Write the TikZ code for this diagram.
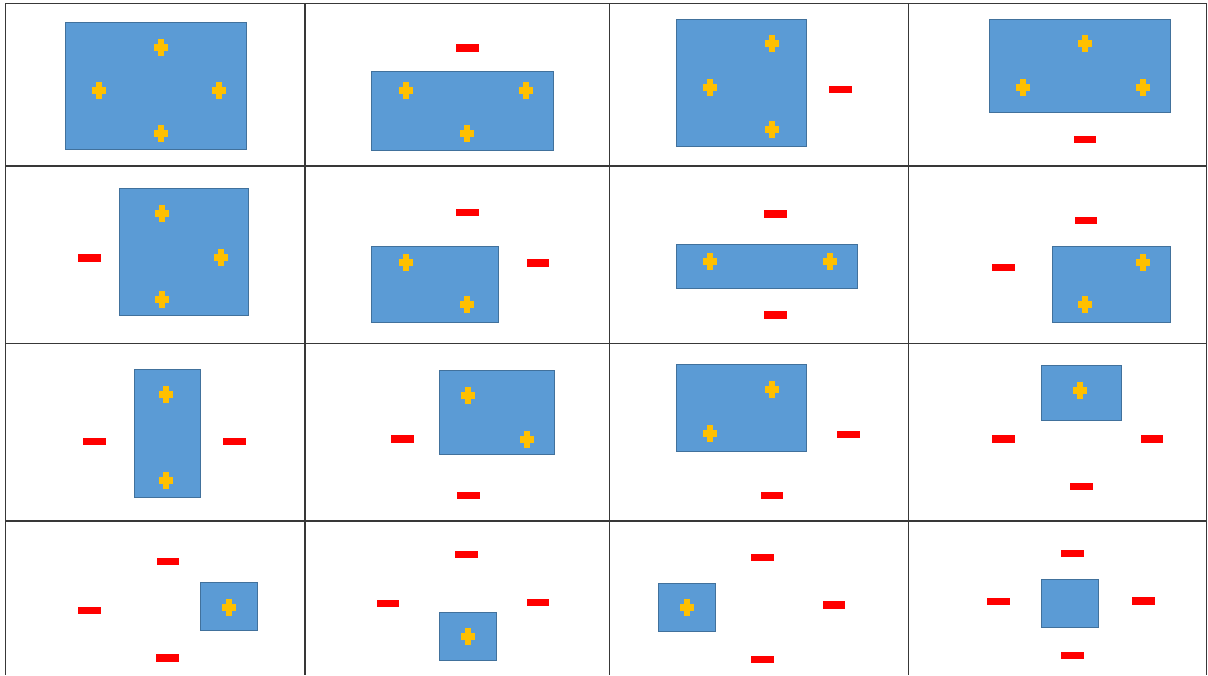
\documentclass[tikz,border=0pt]{standalone}
\definecolor{boxfill}{HTML}{5B9BD5}
\definecolor{boxedge}{HTML}{41719C}
\definecolor{plusc}{HTML}{FFC000}
\definecolor{gridc}{HTML}{383838}
\tikzset{
  box/.style={fill=boxfill, draw=boxedge, line width=1pt},
  gridline/.style={draw=gridc, line width=1.2pt},
  minusbox/.style={fill=red, inner sep=0pt, minimum width=22.5pt, minimum height=7.5pt},
  pluspic/.pic={
    \fill[plusc] (-7,-3.5) rectangle (7,3.5);
    \fill[plusc] (-3,-8.5) rectangle (3,8.5);
  }
}
\begin{document}
\begin{tikzpicture}[x=1pt,y=-1pt]
\useasboundingbox (0,0) rectangle (1208,675);
% grid
\draw[gridline] (5.3,3.5) -- (5.3,675);
\draw[gridline] (305,3.5) -- (305,675);
\draw[gridline] (609.5,3.5) -- (609.5,675);
\draw[gridline] (908.3,3.5) -- (908.3,675);
\draw[gridline] (1206.5,3.5) -- (1206.5,675);
\draw[gridline] (5.3,3.5) -- (1206.5,3.5);
\draw[gridline] (5.3,166) -- (1206.5,166);
\draw[gridline] (5.3,343.5) -- (1206.5,343.5);
\draw[gridline] (5.3,521) -- (1206.5,521);

% ---- row 1 ----
% cell 1
\draw[box] (65,22.3) rectangle (246.7,149.7);
\pic at (160.7,47.3) {pluspic};
\pic at (98.7,90.7) {pluspic};
\pic at (218.7,90.7) {pluspic};
\pic at (160.7,133.3) {pluspic};
% cell 2
\node[minusbox] (m2a) at (467.7,47.8) {};
\draw[box] (371.3,71.7) rectangle (553.3,150.3);
\pic at (405.7,90.7) {pluspic};
\pic at (525.7,90.7) {pluspic};
\pic at (467.3,133.3) {pluspic};
% cell 3
\draw[box] (676,19) rectangle (806,146);
\pic at (771.7,43.7) {pluspic};
\pic at (710,87.7) {pluspic};
\pic at (771.7,129.7) {pluspic};
\node[minusbox] (m3a) at (840.5,89.3) {};
% cell 4
\draw[box] (989,19) rectangle (1170.7,112.7);
\pic at (1084.7,43.7) {pluspic};
\pic at (1023,87.7) {pluspic};
\pic at (1143,87.7) {pluspic};
\node[minusbox] (m4a) at (1085,139.7) {};

% ---- row 2 ----
% cell 5
\draw[box] (119,188.7) rectangle (248.7,315.7);
\pic at (162.3,213.3) {pluspic};
\pic at (220.7,257.3) {pluspic};
\pic at (162.3,299.3) {pluspic};
\node[minusbox] (m5a) at (89.7,258) {};
% cell 6
\node[minusbox] (m6a) at (467.7,212.3) {};
\draw[box] (371.3,246.7) rectangle (498.3,322);
\pic at (405.7,262.7) {pluspic};
\pic at (467.3,304.7) {pluspic};
\node[minusbox] (m6b) at (538.2,263) {};
% cell 7
\node[minusbox] (m7a) at (775.5,214) {};
\draw[box] (676,244.3) rectangle (857.3,288.3);
\pic at (710,261.7) {pluspic};
\pic at (830,261.7) {pluspic};
\node[minusbox] (m7b) at (775.5,315) {};
% cell 8
\node[minusbox] (m8a) at (1086,220.3) {};
\node[minusbox] (m8b) at (1003.7,267.7) {};
\draw[box] (1052,246.7) rectangle (1170.7,322);
\pic at (1143,262.7) {pluspic};
\pic at (1084.7,304.7) {pluspic};

% ---- row 3 ----
% cell 9
\draw[box] (134,369.7) rectangle (200,497);
\pic at (166,394.3) {pluspic};
\pic at (166,480.3) {pluspic};
\node[minusbox] (m9a) at (94.7,441.3) {};
\node[minusbox] (m9b) at (234.7,441.3) {};
% cell 10
\draw[box] (439.3,370.7) rectangle (554.7,454.7);
\pic at (468.3,395.3) {pluspic};
\pic at (526.7,439.3) {pluspic};
\node[minusbox] (m10a) at (402.3,439) {};
\node[minusbox] (m10b) at (468.3,495.7) {};
% cell 11
\draw[box] (676,364.3) rectangle (806,451.7);
\pic at (771.7,389.3) {pluspic};
\pic at (710,433) {pluspic};
\node[minusbox] (m11a) at (848.3,434.7) {};
\node[minusbox] (m11b) at (772,495.3) {};
% cell 12
\draw[box] (1041.3,365) rectangle (1121,420.7);
\pic at (1080.3,390) {pluspic};
\node[minusbox] (m12a) at (1003.7,439) {};
\node[minusbox] (m12b) at (1152,439) {};
\node[minusbox] (m12c) at (1081.3,486.7) {};

% ---- row 4 ----
% cell 13
\node[minusbox] (m13a) at (168,561.7) {};
\node[minusbox] (m13b) at (89.7,610.3) {};
\node[minusbox] (m13c) at (167.3,658) {};
\draw[box] (200,582) rectangle (257,630.7);
\pic at (228.7,607) {pluspic};
% cell 14
\node[minusbox] (m14a) at (466.7,554.3) {};
\node[minusbox] (m14b) at (388.2,603.3) {};
\node[minusbox] (m14c) at (538,602.3) {};
\draw[box] (439.3,612) rectangle (496.7,660.7);
\pic at (468.3,636.3) {pluspic};
% cell 15
\node[minusbox] (m15a) at (762.7,557.3) {};
\draw[box] (658,583.3) rectangle (715,631.7);
\pic at (686.7,607.7) {pluspic};
\node[minusbox] (m15b) at (834.2,605) {};
\node[minusbox] (m15c) at (762.7,659.7) {};
% cell 16
\node[minusbox] (m16a) at (1072.3,553.3) {};
\node[minusbox] (m16b) at (998.3,601.7) {};
\node[minusbox] (m16c) at (1143.7,601) {};
\draw[box] (1041.3,579.3) rectangle (1098.7,627.7);
\node[minusbox] (m16d) at (1072.3,655.7) {};
\end{tikzpicture}
\end{document}
